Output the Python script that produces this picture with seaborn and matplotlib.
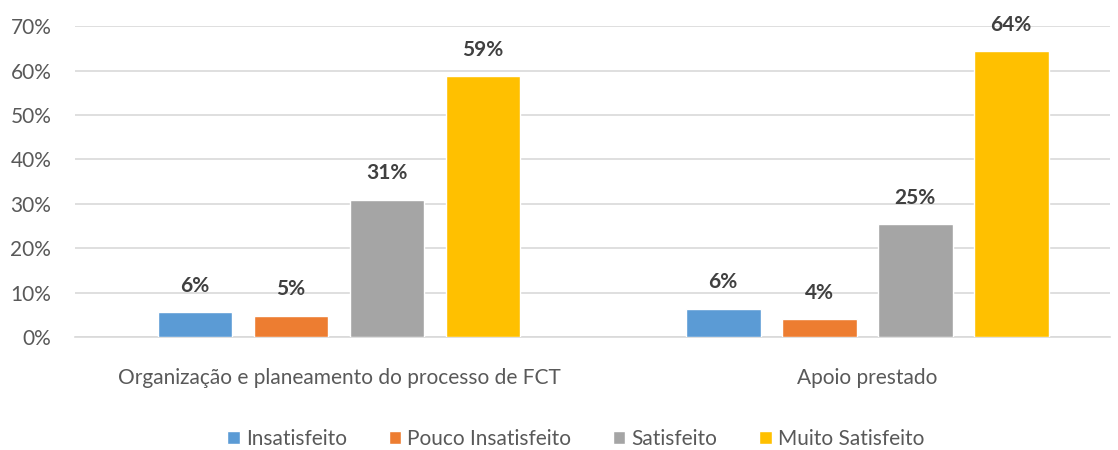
import matplotlib
matplotlib.use("Agg")
import matplotlib.pyplot as plt
import seaborn as sns
import pandas as pd
from matplotlib.ticker import PercentFormatter

# data
categories = ["Organização e planeamento do processo de FCT", "Apoio prestado"]
levels = ["Insatisfeito", "Pouco Insatisfeito", "Satisfeito", "Muito Satisfeito"]
insatisfeito = [0.056, 0.063]
pouco_insatisfeito = [0.048, 0.040]
satisfeito = [0.309, 0.254]
muito_satisfeito = [0.587, 0.643]
colors = ["#5B9BD5", "#ED7D31", "#A5A5A5", "#FFC000"]

rows = []
for lvl, vals in zip(levels, [insatisfeito, pouco_insatisfeito, satisfeito, muito_satisfeito]):
    for cat, v in zip(categories, vals):
        rows.append({"categoria": cat, "nivel": lvl, "valor": v})
df = pd.DataFrame(rows)

sns.set_style("white")
plt.rcParams["font.family"] = ["Lato", "DejaVu Sans"]

fig = plt.figure(figsize=(11.18, 4.5), dpi=100)
ax = fig.add_axes([0.067, 0.251, 0.926, 0.691])

sns.barplot(data=df, x="categoria", y="valor", hue="nivel", order=categories,
            hue_order=levels, palette=colors, width=0.727, gap=0.22,
            saturation=1, ax=ax, zorder=3, legend=True)

ax.set_xlim(-0.5, 1.46)
ax.set_ylim(0, 0.70)
ax.set_yticks([i / 10 for i in range(8)])
ax.yaxis.set_major_formatter(PercentFormatter(1.0, decimals=0))
ax.grid(axis="y", color="#D9D9D9", linewidth=1.2, zorder=0)
for s in ["top", "right", "left"]:
    ax.spines[s].set_visible(False)
ax.spines["bottom"].set_color("#D9D9D9")
ax.spines["bottom"].set_linewidth(1.2)
ax.tick_params(axis="both", length=0, labelsize=15, colors="#595959")
ax.tick_params(axis="x", pad=22)
ax.tick_params(axis="y", pad=17)
ax.set_xlabel("")
ax.set_ylabel("")

for cont in ax.containers:
    ax.bar_label(cont, labels=[f"{v * 100:.0f}%" for v in cont.datavalues],
                 padding=12, fontsize=15, fontweight="bold", color="#404040")

handles, labels = ax.get_legend_handles_labels()
ax.get_legend().remove()
fig.legend(handles, labels, loc="center", bbox_to_anchor=(0.515, 0.024),
           ncol=4, frameon=False, fontsize=15, handlelength=0.6, handleheight=0.6,
           handletextpad=0.3, columnspacing=2.0, labelcolor="#595959")

plt.savefig("out.png", dpi=100)
plt.close()
